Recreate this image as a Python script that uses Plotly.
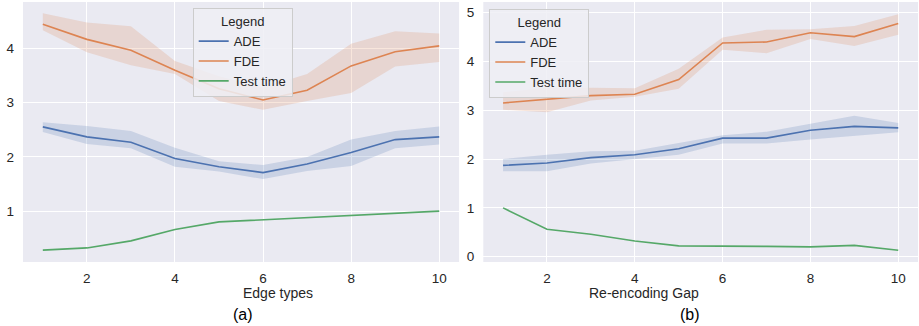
import plotly.graph_objects as go

x = list(range(1, 11))

# Panel (a): Edge types
a_ade = [2.555, 2.37, 2.27, 1.97, 1.82, 1.71, 1.87, 2.08, 2.32, 2.37]
a_ade_hi = [2.64, 2.57, 2.48, 2.17, 1.92, 1.85, 2.00, 2.32, 2.48, 2.56]
a_ade_lo = [2.46, 2.24, 2.16, 1.82, 1.73, 1.59, 1.74, 1.83, 2.16, 2.23]
a_fde = [4.45, 4.17, 3.97, 3.60, 3.26, 3.05, 3.23, 3.68, 3.94, 4.05]
a_fde_hi = [4.65, 4.48, 4.41, 3.77, 3.49, 3.28, 3.53, 4.09, 4.32, 4.28]
a_fde_lo = [4.34, 3.93, 3.69, 3.53, 3.03, 2.87, 3.03, 3.18, 3.67, 3.75]
a_time = [0.28, 0.32, 0.45, 0.66, 0.80, 0.84, 0.88, 0.93, 0.96, 1.00]

# Panel (b): Re-encoding Gap
b_ade = [1.87, 1.92, 2.03, 2.09, 2.21, 2.43, 2.43, 2.59, 2.67, 2.64]
b_ade_hi = [2.00, 2.09, 2.16, 2.17, 2.33, 2.49, 2.56, 2.73, 2.89, 2.74]
b_ade_lo = [1.75, 1.75, 1.91, 2.00, 2.09, 2.32, 2.32, 2.40, 2.48, 2.55]
b_fde = [3.15, 3.23, 3.30, 3.33, 3.63, 4.38, 4.40, 4.59, 4.51, 4.78]
b_fde_hi = [3.37, 3.46, 3.46, 3.45, 3.85, 4.49, 4.65, 4.66, 4.73, 4.97]
b_fde_lo = [3.01, 2.96, 3.20, 3.28, 3.44, 4.24, 4.17, 4.46, 4.32, 4.55]
b_time = [1.00, 0.56, 0.46, 0.32, 0.22, 0.22, 0.21, 0.20, 0.23, 0.13]

C_ADE = "#4C72B0"
C_FDE = "#DD8452"
C_TIME = "#55A868"
F_ADE = "rgba(76,114,176,0.2)"
F_FDE = "rgba(221,132,82,0.2)"

fig = go.Figure()


def add_panel(xa, ya, leg, ade, ade_hi, ade_lo, fde, fde_hi, fde_lo, tt):
    for hi, lo, fc in [(ade_hi, ade_lo, F_ADE), (fde_hi, fde_lo, F_FDE)]:
        fig.add_trace(go.Scatter(x=x, y=hi, mode="lines", line=dict(width=0),
                                 showlegend=False, hoverinfo="skip", xaxis=xa, yaxis=ya))
        fig.add_trace(go.Scatter(x=x, y=lo, mode="lines", line=dict(width=0),
                                 fill="tonexty", fillcolor=fc,
                                 showlegend=False, hoverinfo="skip", xaxis=xa, yaxis=ya))
    for name, vals, col in [("ADE", ade, C_ADE), ("FDE", fde, C_FDE), ("Test time", tt, C_TIME)]:
        fig.add_trace(go.Scatter(x=x, y=vals, mode="lines", name=name,
                                 line=dict(color=col, width=1.6),
                                 xaxis=xa, yaxis=ya, legend=leg))


add_panel("x", "y", "legend", a_ade, a_ade_hi, a_ade_lo, a_fde, a_fde_hi, a_fde_lo, a_time)
add_panel("x2", "y2", "legend2", b_ade, b_ade_hi, b_ade_lo, b_fde, b_fde_hi, b_fde_lo, b_time)

FONT = "Liberation Sans, Arial, sans-serif"
TXT = "#262626"

axis_common = dict(showgrid=True, gridcolor="white", gridwidth=1.2, zeroline=False,
                   showline=False, ticks="", tickfont=dict(size=13.5, color=TXT, family=FONT))

legend_common = dict(bgcolor="rgba(238,238,244,0.85)", bordercolor="#CCCCCC", borderwidth=1,
                     font=dict(size=13, color=TXT, family=FONT),
                     title=dict(text="Legend", side="top center", font=dict(size=13, color=TXT, family=FONT)),
                     xanchor="left", yanchor="top", tracegroupgap=0, itemwidth=30,
                     traceorder="normal")

fig.update_layout(
    width=919, height=326,
    margin=dict(l=23, r=1, t=2, b=64),
    paper_bgcolor="white", plot_bgcolor="#EAEAF2",
    font=dict(family=FONT, color=TXT),
    xaxis=dict(domain=[0, 0.4872], range=[0.55, 10.45], tickvals=[2, 4, 6, 8, 10],
               anchor="y", ticklabelstandoff=6, **axis_common),
    yaxis=dict(domain=[0, 1], range=[0.06, 4.86], tickvals=[1, 2, 3, 4],
               anchor="x", ticklabelstandoff=8, **axis_common),
    xaxis2=dict(domain=[0.5143, 1.0], range=[0.55, 10.45], tickvals=[2, 4, 6, 8, 10],
                anchor="y2", ticklabelstandoff=6, **axis_common),
    yaxis2=dict(domain=[0, 1], range=[-0.11, 5.22], tickvals=[0, 1, 2, 3, 4, 5],
                anchor="x2", ticklabelstandoff=8, **axis_common),
    legend=dict(x=0.1896, y=0.976, **legend_common),
    legend2=dict(x=0.521, y=0.972, **legend_common),
    annotations=[
        dict(text="Edge types", x=0.2436, y=-0.119, xref="paper", yref="paper",
             showarrow=False, font=dict(size=14, color=TXT, family=FONT), yanchor="middle"),
        dict(text="Re-encoding Gap", x=0.7572, y=-0.119, xref="paper", yref="paper",
             showarrow=False, font=dict(size=14, color=TXT, family=FONT), yanchor="middle"),
        dict(text="(a)", x=0.2324, y=-0.2, xref="paper", yref="paper",
             showarrow=False, font=dict(size=16, color="black", family=FONT), yanchor="middle"),
        dict(text="(b)", x=0.7587, y=-0.2, xref="paper", yref="paper",
             showarrow=False, font=dict(size=16, color="black", family=FONT), yanchor="middle"),
    ],
)

fig.write_html("out.html", config={"displayModeBar": False},
               post_script="document.body.style.margin='0';document.body.style.overflow='hidden';")
